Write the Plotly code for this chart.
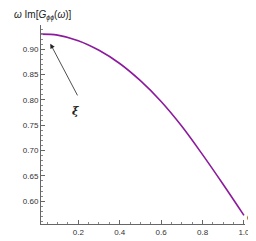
import plotly.graph_objects as go

omega = [0.02, 0.1, 0.2, 0.3, 0.4, 0.5, 0.6, 0.7, 0.8, 0.9, 1.0]
im_g = [0.930, 0.928, 0.917, 0.898, 0.872, 0.838, 0.797, 0.748, 0.692, 0.633, 0.572]
x_ticks = [0.2, 0.4, 0.6, 0.8, 1.0]
x_ticklabels = ["0.2", "0.4", "0.6", "0.8", "1.0"]
y_ticks = [0.60, 0.65, 0.70, 0.75, 0.80, 0.85, 0.90]
y_ticklabels = ["0.60", "0.65", "0.70", "0.75", "0.80", "0.85", "0.90"]

fig = go.Figure()
fig.add_trace(go.Scatter(x=omega, y=im_g, mode="lines",
                         line=dict(color="#8B1A9C", width=1.6, shape="spline", smoothing=1.0),
                         showlegend=False, hoverinfo="skip"))

fig.add_annotation(x=0.065, y=0.911, ax=0.2, ay=0.806, xref="x", yref="y", axref="x", ayref="y",
                   showarrow=True, arrowhead=2, arrowsize=1.2, arrowwidth=0.8, arrowcolor="#222", text="")
fig.add_annotation(x=0.185, y=0.778, xref="x", yref="y", text="<b><i>ξ</i></b>", showarrow=False,
                   font=dict(size=11, color="#222", family="DejaVu Serif"))

fig.add_annotation(x=-0.14, y=1, xref="paper", yref="paper", xanchor="left", yanchor="bottom",
                   text="<i>ω</i> Im[<i>G</i><sub><i>ϕϕ</i></sub>(<i>ω</i>)]", showarrow=False,
                   font=dict(size=10, color="#222", family="Liberation Sans"), yshift=1)
fig.add_annotation(x=1.0, y=0, xref="paper", yref="paper", xanchor="left", yanchor="middle",
                   text="<i>ω</i>", showarrow=False, xshift=1, yshift=7, borderpad=0,
                   font=dict(size=9, color="#222", family="Liberation Sans"))

axis_common = dict(showgrid=False, zeroline=False, showline=True, linecolor="#666", linewidth=1,
                   ticks="inside", ticklen=4, tickcolor="#666", tickwidth=0.8,
                   tickfont=dict(size=8, color="#333", family="Liberation Sans"))
fig.update_xaxes(range=[0.02, 1.005], tickvals=x_ticks, ticktext=x_ticklabels,
                 minor=dict(dtick=0.05, tick0=0, ticks="inside", ticklen=2, tickcolor="#888"),
                 **axis_common)
fig.update_yaxes(range=[0.555, 0.948], tickvals=y_ticks, ticktext=y_ticklabels,
                 minor=dict(dtick=0.01, tick0=0, ticks="inside", ticklen=2, tickcolor="#888"),
                 **axis_common)
fig.update_layout(width=256, height=241, margin=dict(l=33, r=19, t=17, b=14),
                  font=dict(color="#333", family="Liberation Sans"),
                  plot_bgcolor="white", paper_bgcolor="white")
fig.write_html("out.html")
